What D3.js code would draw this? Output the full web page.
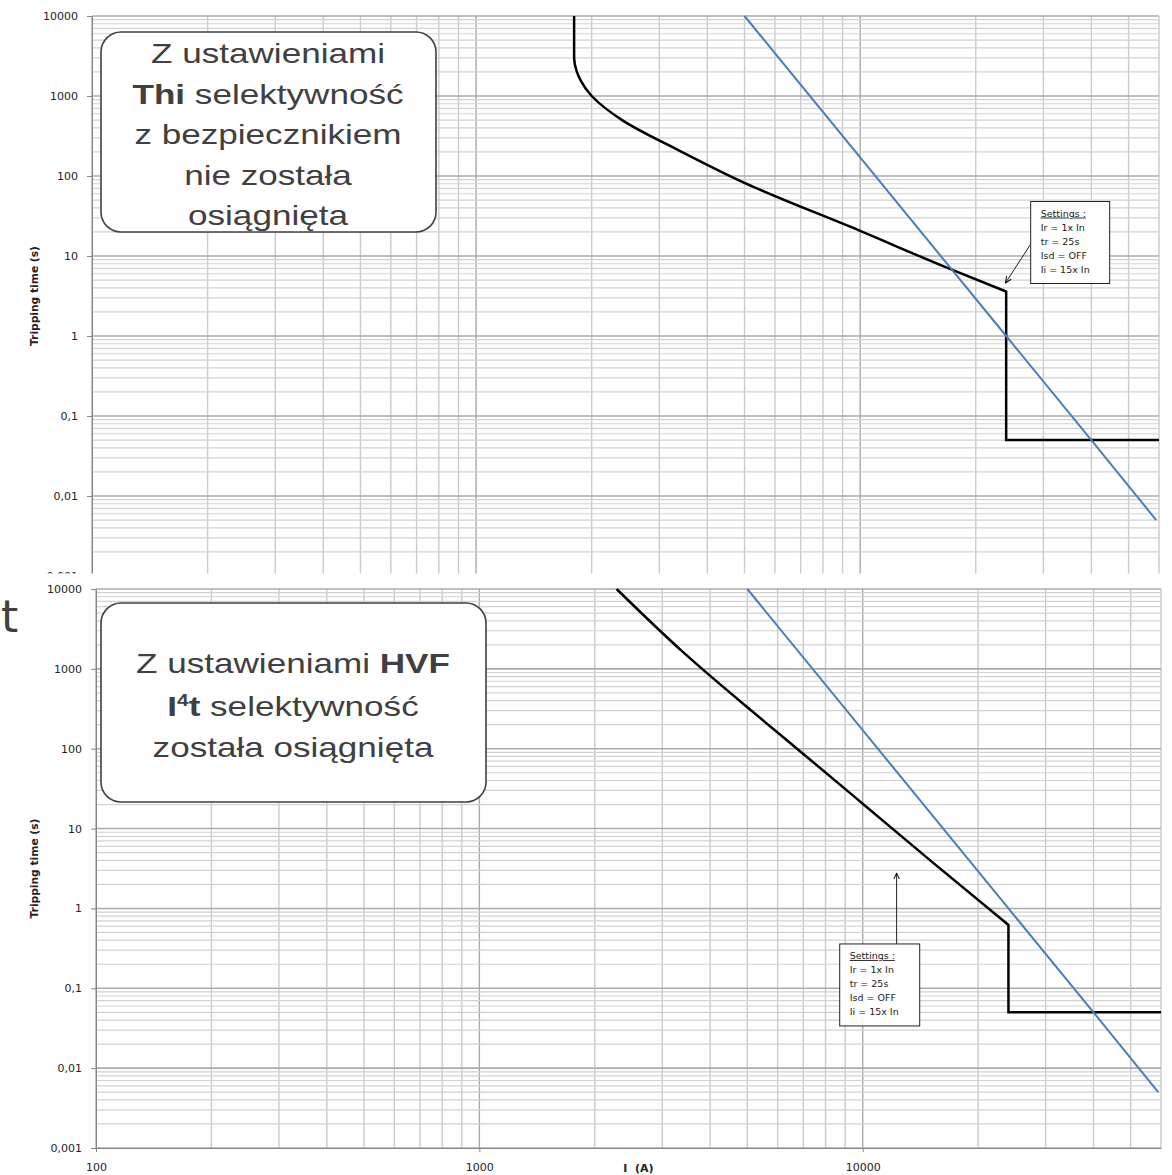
<!DOCTYPE html>
<html>
<head>
<meta charset="utf-8">
<script src="https://cdn.jsdelivr.net/npm/d3@7"></script>
<style>
  body { margin: 0; background: #fff; }
  text { font-family: "DejaVu Sans", sans-serif; }
</style>
</head>
<body>
<div class="chart"></div>
<script>
// axis ticks
var yTickValues = [0.001, 0.01, 0.1, 1, 10, 100, 1000, 10000];
var yTickLabels = ["0,001", "0,01", "0,1", "1", "10", "100", "1000", "10000"];
var xTickValues = [100, 1000, 10000];
var xTickLabels = ["100", "1000", "10000"];

// fuse characteristic (blue), same in both charts
var fuseCurrent = [5000, 24000, 40000, 59000];
var fuseTime = [10000, 1, 0.05, 0.005];

// breaker with Thi settings (top)
var thiCurrent = [1800, 1800, 1830, 1870, 2000, 2400, 3400, 5000, 10000, 17000, 24000];
var thiTime = [10000, 3000, 2000, 1580, 1000, 500, 205, 82, 20.6, 7.0, 3.6];
// breaker with HVF I4t settings (bottom)
var hvfCurrent = [2280, 3400, 5000, 7000, 10000, 15000, 24000];
var hvfTime = [10000, 1620, 330, 86, 20.5, 4.0, 0.62];
// instantaneous step, both charts
var instCurrent = [24000, 24000, 60000];
var instTime = [null, 0.05, 0.05];

var settingsText = ["Settings :", "Ir = 1x In", "tr = 25s", "Isd = OFF", "Ii = 15x In"];

var W = 1172, H = 1175;
var svg = d3.select(".chart").append("svg")
    .attr("width", W)
    .attr("height", H);

svg.append("defs").append("marker")
    .attr("id", "arrow")
    .attr("viewBox", "0 0 10 10")
    .attr("refX", 9).attr("refY", 5)
    .attr("markerWidth", 7).attr("markerHeight", 7)
    .attr("orient", "auto")
  .append("path")
    .attr("d", "M0,1 L9,5 L0,9")
    .attr("fill", "none")
    .attr("stroke", "#000")
    .attr("stroke-width", 1.4);

function drawChart(g, x, y, opts) {
  var x0 = x.range()[0], x1 = x.range()[1];
  var yTop = y.range()[1], yBot = y.range()[0];

  // grid values 1..9 per decade
  var xs = [], ys = [];
  for (var d = 100; d < 60000; d *= 10)
    for (var k = 1; k <= 9; k++) if (d * k <= 60000) xs.push({v: d * k, major: k === 1});
  for (var e = -3; e < 4; e++)
    for (var k2 = 1; k2 <= 9; k2++) ys.push({v: k2 * Math.pow(10, e), major: k2 === 1});
  ys.push({v: 10000, major: true});

  g.selectAll(".vg").data(xs).enter().append("line")
      .attr("x1", function(d) { return x(d.v); })
      .attr("x2", function(d) { return x(d.v); })
      .attr("y1", yTop).attr("y2", yBot)
      .attr("stroke", function(d) { return d.major ? "#a9a9a9" : "#cbcbcb"; })
      .attr("stroke-width", 1.4);

  g.selectAll(".hg").data(ys).enter().append("line")
      .attr("x1", x0).attr("x2", x1)
      .attr("y1", function(d) { return y(d.v); })
      .attr("y2", function(d) { return y(d.v); })
      .attr("stroke", function(d) { return d.major ? "#ababab" : "#d2d2d2"; })
      .attr("stroke-width", function(d) { return d.major ? 1.6 : 1.2; });

  // y axis
  var ya = g.append("g")
      .attr("transform", "translate(" + x0 + ",0)")
      .call(d3.axisLeft(y).tickValues(yTickValues)
        .tickFormat(function(d, i) { return yTickLabels[i]; })
        .tickSize(5).tickSizeOuter(0).tickPadding(9));
  ya.select(".domain").attr("stroke", "#868686");
  ya.selectAll(".tick line").attr("stroke", "#868686");
  ya.selectAll("text").attr("font-family", "DejaVu Sans").attr("font-size", 11).attr("fill", "#222");

  g.append("text")
      .attr("transform", "translate(38," + ((yTop + yBot) / 2) + ") rotate(-90)")
      .attr("text-anchor", "middle")
      .attr("font-weight", "bold")
      .attr("font-size", 10.7)
      .attr("fill", "#222")
      .text("Tripping time (s)");

  if (opts.xAxis) {
    var xa = g.append("g")
        .attr("transform", "translate(0," + yBot + ")")
        .call(d3.axisBottom(x).tickValues(xTickValues)
          .tickFormat(function(d, i) { return xTickLabels[i]; })
          .tickSize(4).tickSizeOuter(0).tickPadding(11));
    xa.select(".domain").attr("stroke", "#868686");
    xa.selectAll(".tick line").attr("stroke", "#868686");
    xa.selectAll("text").attr("font-family", "DejaVu Sans").attr("font-size", 11).attr("fill", "#222");
    g.append("text")
        .attr("x", x(2600)).attr("y", yBot + 24)
        .attr("text-anchor", "middle")
        .attr("font-weight", "bold")
        .attr("font-size", 11)
        .attr("fill", "#222")
        .attr("xml:space", "preserve")
        .text("I  (A)");
  }

  // breaker curve: smooth part then instantaneous step
  var smooth = d3.line()
      .x(function(d) { return x(d[0]); })
      .y(function(d) { return y(d[1]); })
      .curve(d3.curveMonotoneY);
  var straight = d3.line()
      .x(function(d) { return x(d[0]); })
      .y(function(d) { return y(d[1]); });
  var pts = opts.current.map(function(c, i) { return [c, opts.time[i]]; });
  var step = instCurrent.map(function(c, i) { return [c, i === 0 ? opts.time[opts.time.length - 1] : instTime[i]]; });
  g.append("path")
      .attr("d", smooth(pts) + straight(step).replace(/^M/, "L"))
      .attr("fill", "none")
      .attr("stroke", "#000")
      .attr("stroke-width", 2.5)
      .attr("stroke-linejoin", "miter");

  g.append("path")
      .datum(fuseCurrent.map(function(c, i) { return [c, fuseTime[i]]; }))
      .attr("d", straight)
      .attr("fill", "none")
      .attr("stroke", "#4a7ebb")
      .attr("stroke-width", 2);
}

function bigBox(g, bx, by, bw, bh, cx, baselines, lines) {
  g.append("rect")
      .attr("x", bx).attr("y", by).attr("width", bw).attr("height", bh)
      .attr("rx", 20).attr("ry", 20)
      .attr("fill", "#fff")
      .attr("stroke", "#404040")
      .attr("stroke-width", 1.6);
  lines.forEach(function(line, i) {
    var t = g.append("g")
        .attr("transform", "translate(" + cx + "," + baselines[i] + ") scale(1.3,1)")
      .append("text")
        .attr("text-anchor", "middle")
        .attr("font-family", "Liberation Sans, Arial, sans-serif")
        .attr("font-size", 27)
        .attr("fill", "#404040");
    line.forEach(function(s) {
      var ts = t.append("tspan")
          .style("font-family", "Liberation Sans, Arial, sans-serif")
          .attr("font-weight", s.b ? "bold" : "normal")
          .text(s.t);
      if (s.sup) ts.attr("font-size", 16).attr("dy", -10);
      if (s.down) ts.attr("dy", 10);
    });
  });
}

function settingsBox(g, bx, by, bw, bh) {
  g.append("rect")
      .attr("x", bx).attr("y", by).attr("width", bw).attr("height", bh)
      .attr("fill", "#fff")
      .attr("stroke", "#222")
      .attr("stroke-width", 1);
  settingsText.forEach(function(s, i) {
    g.append("text")
        .attr("x", bx + 10).attr("y", by + 15 + i * 14)
        .attr("font-family", "Liberation Sans, Arial, sans-serif")
        .attr("font-size", 9.5)
        .attr("fill", "#222")
        .attr("text-decoration", i === 0 ? "underline" : null)
        .text(s);
  });
}

// ---- top chart
var xTop = d3.scaleLog().domain([100, 60000]).range([92, 1159]);
var yTopS = d3.scaleLog().domain([0.001, 10000]).range([576, 16]);
var gTop = svg.append("g");
drawChart(gTop, xTop, yTopS, {current: thiCurrent, time: thiTime, xAxis: false});

bigBox(gTop, 101, 32, 335, 200, 268, [63, 103.5, 144, 184.5, 225], [
  [{t: "Z ustawieniami"}],
  [{t: "Thi", b: true}, {t: " selektywność"}],
  [{t: "z bezpiecznikiem"}],
  [{t: "nie została"}],
  [{t: "osiągnięta"}]
]);

settingsBox(gTop, xTop(27800), yTopS(48), 79, 82);
gTop.append("line")
    .attr("x1", xTop(27700)).attr("y1", yTopS(13.7))
    .attr("x2", xTop(23900)).attr("y2", yTopS(4.6))
    .attr("stroke", "#222").attr("stroke-width", 1)
    .attr("marker-end", "url(#arrow)");

// ---- bottom chart (covers the lower edge of the top one)
svg.append("rect").attr("x", 0).attr("y", 573.5).attr("width", W).attr("height", H - 573.5).attr("fill", "#fff");
var xBot = d3.scaleLog().domain([100, 60000]).range([96, 1161]);
var yBotS = d3.scaleLog().domain([0.001, 10000]).range([1148, 589]);
var gBot = svg.append("g");
drawChart(gBot, xBot, yBotS, {current: hvfCurrent, time: hvfTime, xAxis: true});

bigBox(gBot, 101, 603, 385, 199, 293, [673, 716, 757], [
  [{t: "Z ustawieniami "}, {t: "HVF", b: true}],
  [{t: "I", b: true}, {t: "4", b: true, sup: true}, {t: "t", b: true, down: true}, {t: " selektywność"}],
  [{t: "została osiągnięta"}]
]);

settingsBox(gBot, xBot(8710), yBotS(0.359), 80, 82);
gBot.append("line")
    .attr("x1", xBot(12260)).attr("y1", yBotS(0.359))
    .attr("x2", xBot(12260)).attr("y2", yBotS(2.78))
    .attr("stroke", "#222").attr("stroke-width", 1)
    .attr("marker-end", "url(#arrow)");

// stray letter at the left edge
svg.append("text")
    .attr("x", 1).attr("y", 632)
    .attr("text-anchor", "start")
    .attr("font-family", "Liberation Sans, Arial, sans-serif")
    .attr("font-size", 44)
    .attr("fill", "#404040")
    .text("t");
</script>
</body>
</html>
